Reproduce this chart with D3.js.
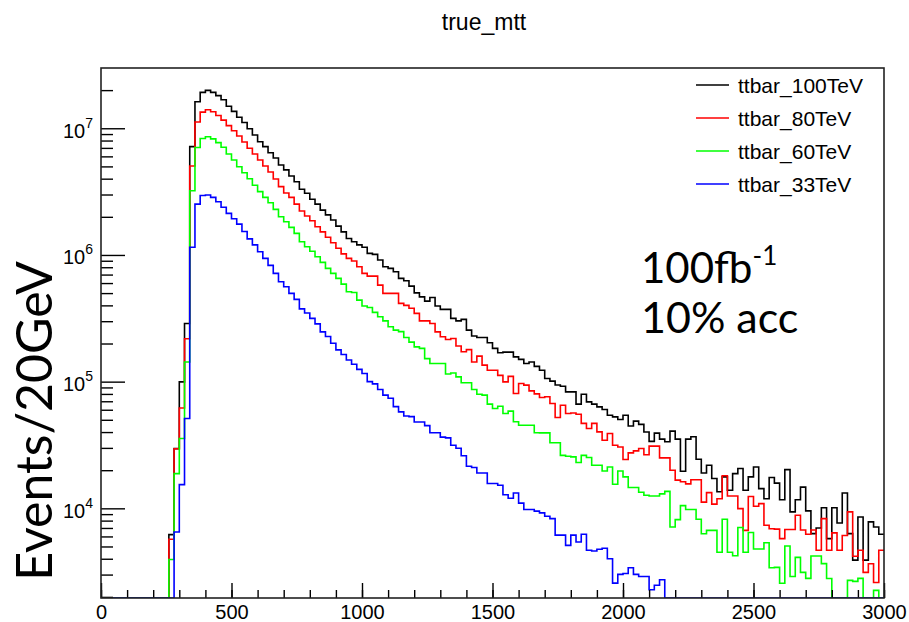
<!DOCTYPE html>
<html>
<head>
<meta charset="utf-8">
<script src="https://cdn.jsdelivr.net/npm/d3@7"></script>
<style>
  body { margin: 0; background: #fff; }
  svg { display: block; }
  .root-text { font-family: "Liberation Sans", Arial, Helvetica, sans-serif; fill: #000; }
  .note-text { font-family: Lato, "Open Sans", sans-serif; fill: #000; }
</style>
</head>
<body>
<svg id="chart" width="909" height="622"></svg>
<script>
// ---- histogram binning: 150 bins of 20 GeV from 0 to 3000 ----
const xMin = 0, xMax = 3000, binWidth = 20;

// ---- bin contents (events per 20 GeV), bins 0..149 ----
const ttbar_100TeV = [
  0, 0, 0, 0, 0, 0, 0, 0, 0, 0,
  0, 0, 0, 6200, 29600, 99500, 288000, 7.16e6, 1.62e7, 1.92e7,
  1.99e7, 1.92e7, 1.81e7, 1.68e7, 1.49e7, 1.36e7, 1.22e7, 1.11e7, 9.9e6, 8.85e6,
  7.83e6, 7.16e6, 6.41e6, 5.82e6, 5.13e6, 4.69e6, 4.2e6, 3.78e6, 3.3e6, 3.07e6,
  2.75e6, 2.52e6, 2.26e6, 2.07e6, 1.89e6, 1.69e6, 1.52e6, 1.35e6, 1.27e6, 1.2e6,
  1.15e6, 1.03e6, 1.01e6, 9.12e5, 8.08e5, 7.84e5, 7.37e5, 6.53e5, 6.25e5, 5.68e5,
  5.02e5, 4.67e5, 4.32e5, 4.62e5, 3.95e5, 3.72e5, 3.72e5, 3.16e5, 3.02e5, 3.10e5,
  2.55e5, 2.29e5, 2.23e5, 2.23e5, 2.03e5, 1.83e5, 1.69e5, 1.71e5, 1.71e5, 1.57e5,
  1.50e5, 1.39e5, 1.43e5, 1.32e5, 1.23e5, 1.06e5, 1.01e5, 9.4e4, 9.2e4, 8.3e4,
  8.3e4, 6.64e4, 7.96e4, 6.92e4, 6.64e4, 6.32e4, 6.03e4, 5.43e4, 5.27e4, 5.02e4,
  5.43e4, 4.46e4, 4.88e4, 4.6e4, 4.0e4, 3.38e4, 3.92e4, 3.52e4, 3.35e4, 4.07e4,
  3.52e4, 1.96e4, 3.52e4, 3.67e4, 2.44e4, 1.9e4, 2.19e4, 1.72e4, 1.35e4, 1.77e4,
  1.39e4, 1.88e4, 2.06e4, 1.39e4, 1.77e4, 2.12e4, 1.43e4, 1.19e4, 1.75e4, 1.58e4,
  1.17e4, 2.02e4, 9380, 1.17e4, 1.47e4, 9550, 6320, 7000, 1.01e4, 5770,
  1.01e4, 7670, 1.32e4, 6320, 3900, 8550, 3900, 7820, 7130, 6250
];

const ttbar_80TeV = [
  0, 0, 0, 0, 0, 0, 0, 0, 0, 0,
  0, 0, 0, 5700, 29500, 62000, 218000, 5.04e6, 1.12e7, 1.34e7,
  1.4e7, 1.35e7, 1.26e7, 1.16e7, 1.05e7, 9.57e6, 8.69e6, 7.79e6, 6.95e6, 6.27e6,
  5.62e6, 5.04e6, 4.52e6, 3.98e6, 3.46e6, 3.08e6, 2.85e6, 2.52e6, 2.22e6, 2.03e6,
  1.86e6, 1.67e6, 1.52e6, 1.38e6, 1.25e6, 1.13e6, 1.02e6, 9.4e5, 8.95e5, 8.08e5,
  7.16e5, 6.8e5, 6.8e5, 5.78e5, 4.97e5, 4.97e5, 4.97e5, 4.15e5, 4.0e5, 3.8e5,
  3.46e5, 3.02e5, 3.02e5, 2.88e5, 2.47e5, 2.26e5, 2.15e5, 2.19e5, 1.91e5, 1.72e5,
  1.79e5, 1.43e5, 1.59e5, 1.35e5, 1.23e5, 1.23e5, 1.12e5, 9.95e4, 1.10e5, 8.07e4,
  9.68e4, 9.38e4, 8.45e4, 8.0e4, 7.5e4, 7.6e4, 6.73e4, 5.21e4, 6.52e4, 5.61e4,
  5.66e4, 5.53e4, 4.68e4, 4.27e4, 4.68e4, 4.01e4, 3.45e4, 3.9e4, 3.15e4, 3.05e4,
  2.43e4, 2.74e4, 2.84e4, 2.97e4, 2.65e4, 3.1e4, 3.1e4, 2.5e4, 2.5e4, 2.0e4,
  1.67e4, 1.62e4, 1.56e4, 1.68e4, 1.68e4, 1.12e4, 1.33e4, 1.08e4, 1.19e4, 1.81e4,
  1.25e4, 1.25e4, 9950, 6700, 1.24e4, 1.04e4, 1.09e4, 7360, 6900, 6850,
  5770, 6800, 6800, 8830, 6750, 6250, 6750, 4670, 8300, 4670,
  6400, 4670, 6100, 9380, 4190, 4670, 3120, 3650, 2600, 4670
];

const ttbar_60TeV = [
  0, 0, 0, 0, 0, 0, 0, 0, 0, 0,
  0, 0, 0, 3950, 18800, 35600, 143000, 3.21e6, 7.05e6, 8.3e6,
  8.58e6, 8.25e6, 7.7e6, 7.08e6, 6.27e6, 5.62e6, 4.97e6, 4.46e6, 4.0e6, 3.55e6,
  3.16e6, 2.85e6, 2.58e6, 2.29e6, 2.0e6, 1.83e6, 1.65e6, 1.48e6, 1.27e6, 1.16e6,
  1.07e6, 9.69e5, 8.74e5, 7.84e5, 7.16e5, 6.53e5, 5.89e5, 5.12e5, 5.05e5, 4.4e5,
  3.95e5, 3.85e5, 3.52e5, 3.25e5, 3.02e5, 2.71e5, 2.55e5, 2.48e5, 2.23e5, 2.05e5,
  1.88e5, 1.83e5, 1.52e5, 1.39e5, 1.39e5, 1.39e5, 1.15e5, 1.17e5, 1.09e5, 9.8e4,
  9.8e4, 8.67e4, 7.96e4, 7.82e4, 6.64e4, 6.14e4, 6.4e4, 5.61e4, 5.85e4, 4.82e4,
  4.53e4, 4.53e4, 4.53e4, 3.95e4, 3.94e4, 3.94e4, 3.29e4, 3.29e4, 2.62e4, 2.58e4,
  2.55e4, 2.3e4, 2.62e4, 2.52e4, 2.19e4, 2.19e4, 1.97e4, 2.12e4, 1.55e4, 1.97e4,
  1.77e4, 1.46e4, 1.46e4, 1.34e4, 1.27e4, 1.25e4, 1.25e4, 1.3e4, 1.36e4, 7130,
  8150, 1.05e4, 9800, 9800, 8200, 6300, 6700, 6700, 4500, 8200,
  4500, 4220, 7050, 4500, 6450, 4780, 4780, 5350, 3400, 3420,
  2560, 5050, 2900, 4100, 3120, 2800, 4200, 4200, 3660, 2790,
  0, 0, 0, 2700, 2650, 2800, 0, 0, 2250, 0
];

const ttbar_33TeV = [
  0, 0, 0, 0, 0, 0, 0, 0, 0, 0,
  0, 0, 0, 0, 6500, 15400, 51200, 1.15e6, 2.52e6, 2.95e6,
  2.97e6, 2.85e6, 2.63e6, 2.38e6, 2.13e6, 1.93e6, 1.75e6, 1.53e6, 1.34e6, 1.2e6,
  1.06e6, 9.4e5, 8.27e5, 7.16e5, 6.14e5, 5.61e5, 4.97e5, 4.46e5, 3.75e5, 3.48e5,
  3.16e5, 2.86e5, 2.47e5, 2.27e5, 2.01e5, 1.78e5, 1.64e5, 1.48e5, 1.37e5, 1.25e5,
  1.16e5, 1.0e5, 9.6e4, 8.67e4, 7.82e4, 7.4e4, 6.35e4, 5.77e4, 5.35e4, 5.3e4,
  4.8e4, 4.8e4, 4.5e4, 3.95e4, 3.95e4, 3.65e4, 3.6e4, 3.15e4, 2.98e4, 2.6e4,
  2.15e4, 2.1e4, 1.9e4, 1.9e4, 1.57e4, 1.57e4, 1.52e4, 1.28e4, 1.2e4, 1.32e4,
  1.1e4, 9800, 9800, 9500, 9200, 8670, 8300, 6140, 6140, 5100,
  6140, 5430, 6240, 4670, 4600, 4750, 4840, 4000, 2570, 3010,
  3060, 3400, 3010, 2900, 2900, 2280, 2470, 2730, 0, 0,
  0, 0, 0, 0, 0, 0, 0, 0, 0, 0,
  0, 0, 0, 0, 0, 0, 0, 0, 0, 0,
  0, 0, 0, 0, 0, 0, 0, 0, 0, 0,
  0, 0, 0, 0, 0, 0, 0, 0, 0, 0
];

const seriesNames = ["ttbar_100TeV", "ttbar_80TeV", "ttbar_60TeV", "ttbar_33TeV"];
const seriesColors = ["#000000", "#ff0000", "#00ff00", "#0000ff"];
const seriesValues = [ttbar_100TeV, ttbar_80TeV, ttbar_60TeV, ttbar_33TeV];

const xMajorTicks = [0, 500, 1000, 1500, 2000, 2500, 3000];
const yDecades = [1e4, 1e5, 1e6, 1e7];
const yRange = [1960, 2.99e7];

// ---- layout ----
const width = 909, height = 622;
const frame = { left: 101, top: 68, right: 884, bottom: 598 };

const svg = d3.select("#chart");

const x = d3.scaleLinear().domain([xMin, xMax]).range([frame.left, frame.right]);
const y = d3.scaleLog().domain(yRange).range([frame.bottom, frame.top]);

// title
svg.append("text")
  .attr("class", "root-text")
  .attr("x", 484).attr("y", 30)
  .attr("text-anchor", "middle")
  .style("font-size", "23px")
  .text("true_mtt");

// clip region for the histograms
svg.append("defs").append("clipPath").attr("id", "plot-clip")
  .append("rect")
  .attr("x", frame.left).attr("y", frame.top)
  .attr("width", frame.right - frame.left).attr("height", frame.bottom - frame.top);

// ---- histograms drawn as step outlines (empty bins sit on the axis) ----
const yFloor = yRange[0];
const stepLine = d3.line()
  .x(d => x(d.edge))
  .y(d => y(Math.max(d.value, yFloor)))
  .curve(d3.curveStepAfter);

const histGroup = svg.append("g").attr("clip-path", "url(#plot-clip)");
seriesValues.forEach((vals, k) => {
  const pts = vals.map((v, i) => ({ edge: xMin + i * binWidth, value: v }));
  pts.push({ edge: xMax, value: vals[vals.length - 1] });
  histGroup.append("path")
    .datum(pts)
    .attr("fill", "none")
    .attr("stroke", seriesColors[k])
    .attr("stroke-width", 1.6)
    .attr("d", stepLine);
});

// ---- x axis: inward ticks ----
const xMinorAxis = d3.axisBottom(x)
  .tickValues(d3.range(xMin, xMax + 1, 100))
  .tickSizeInner(-8).tickSizeOuter(0).tickFormat("");
const xMajorAxis = d3.axisBottom(x)
  .tickValues(xMajorTicks)
  .tickSizeInner(-15).tickSizeOuter(0).tickPadding(7)
  .tickFormat(d3.format("d"));

const gxMinor = svg.append("g").attr("transform", `translate(0,${frame.bottom})`).call(xMinorAxis);
const gxMajor = svg.append("g").attr("transform", `translate(0,${frame.bottom})`).call(xMajorAxis);
[gxMinor, gxMajor].forEach(g => {
  g.select(".domain").remove();
  g.selectAll("line").attr("stroke", "#000").attr("stroke-width", 1.4);
});
gxMajor.selectAll("text")
  .attr("class", "root-text")
  .style("font-size", "20px");

// ---- y axis (log): inward ticks ----
const yMinorTicks = y.ticks().filter(v => !yDecades.includes(v));
const yMinorAxis = d3.axisLeft(y)
  .tickValues(yMinorTicks).tickSizeInner(-12).tickSizeOuter(0).tickFormat("");
const yMajorAxis = d3.axisLeft(y)
  .tickValues(yDecades).tickSizeInner(-24).tickSizeOuter(0).tickFormat("");

const gyMinor = svg.append("g").attr("transform", `translate(${frame.left},0)`).call(yMinorAxis);
const gyMajor = svg.append("g").attr("transform", `translate(${frame.left},0)`).call(yMajorAxis);
[gyMinor, gyMajor].forEach(g => {
  g.select(".domain").remove();
  g.selectAll("line").attr("stroke", "#000").attr("stroke-width", 1.4);
});

// decade labels as 10 with a raised exponent
gyMajor.selectAll(".tick").each(function (d) {
  const t = d3.select(this).append("text")
    .attr("class", "root-text")
    .attr("x", -8).attr("y", 9)
    .attr("text-anchor", "end")
    .style("font-size", "20px");
  t.append("tspan").text("10");
  t.append("tspan")
    .attr("dy", -10)
    .style("font-size", "14px")
    .text(Math.round(Math.log10(d)));
});

// ---- frame ----
svg.append("rect")
  .attr("x", frame.left).attr("y", frame.top)
  .attr("width", frame.right - frame.left).attr("height", frame.bottom - frame.top)
  .attr("fill", "none").attr("stroke", "#222").attr("stroke-width", 1.6);

// ---- legend ----
const legend = svg.append("g");
seriesNames.forEach((name, k) => {
  const rowY = 85 + k * 33;
  legend.append("line")
    .attr("x1", 696).attr("x2", 729)
    .attr("y1", rowY).attr("y2", rowY)
    .attr("stroke", seriesColors[k]).attr("stroke-width", 1.6);
  legend.append("text")
    .attr("class", "root-text")
    .attr("x", 738).attr("y", rowY + 8)
    .style("font-size", "21px")
    .text(name);
});

// ---- axis title ----
svg.append("text")
  .attr("class", "note-text")
  .attr("transform", "translate(52,421) rotate(-90)")
  .attr("text-anchor", "middle")
  .style("font-size", "50px")
  .text("Events/20GeV");

// ---- luminosity / acceptance note ----
const lumi = svg.append("text")
  .attr("class", "note-text")
  .attr("x", 641).attr("y", 283)
  .style("font-size", "42px");
lumi.append("tspan").text("100fb");
lumi.append("tspan").attr("dy", -18).style("font-size", "26px").text("-1");

svg.append("text")
  .attr("class", "note-text")
  .attr("x", 641).attr("y", 333)
  .style("font-size", "43px")
  .text("10% acc");
</script>
</body>
</html>
